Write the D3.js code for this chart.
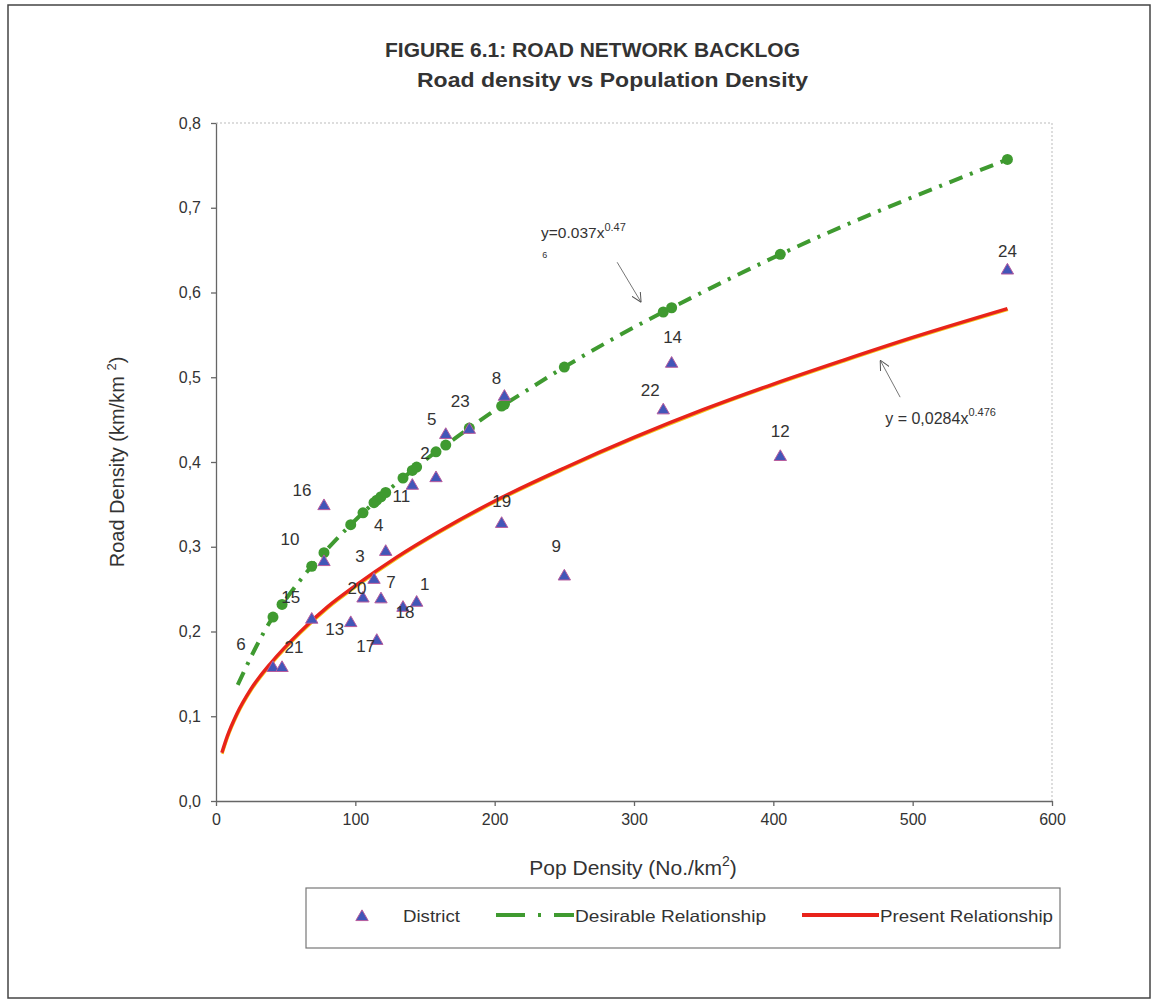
<!DOCTYPE html>
<html>
<head>
<meta charset="utf-8">
<script src="https://cdn.jsdelivr.net/npm/d3@7"></script>
<style>
body { margin: 0; background: #fff; }
text { font-family: "Liberation Sans", Arial, sans-serif; fill: #333; }
</style>
</head>
<body>
<svg id="chart" width="1156" height="1005"></svg>
<script>
// districts (triangles)
const districts = ["1","2","3","4","5","6","7","8","9","10","11","12","13","14","15","16","17","18","19","20","21","22","23","24"];
const popDensity = [144, 157.9, 113.4, 121.8, 164.9, 40.9, 118.4, 207, 250, 77.5, 140.9, 405, 96.7, 327, 68.7, 77.5, 115.4, 134.2, 205, 105.5, 47.4, 321, 181.8, 568];
const roadDensity = [0.234, 0.381, 0.261, 0.294, 0.432, 0.157, 0.238, 0.477, 0.265, 0.282, 0.372, 0.406, 0.210, 0.516, 0.214, 0.348, 0.189, 0.228, 0.327, 0.239, 0.157, 0.461, 0.438, 0.626];
// label nudges (px) as placed on the original chart
const labelDx = [8, -11, -14, -7, -14, -32, 10, -8, -8, -34, -11, 0, -16, 1, -21, -22, -11, 2, 0, -6, 12, -13, -9, 0];
const labelDy = [-18, -25, -23, -26, -15, -23, -17, -18, -30, -23, 11, -25, 6, -26, -22, -16, 6, 5, -22, -10, -20, -20, -28, -19];

// desirable relationship (green, markers at district densities)
const desirableX = [15.6, 40.9, 47.4, 68.7, 77.5, 96.7, 105.5, 113.4, 115.4, 118.4, 121.8, 134.2, 140.9, 144, 157.9, 164.9, 181.8, 205, 207, 250, 321, 327, 405, 568];
const desirableY = [0.137, 0.217, 0.232, 0.277, 0.293, 0.326, 0.340, 0.352, 0.355, 0.359, 0.364, 0.381, 0.390, 0.394, 0.412, 0.420, 0.440, 0.466, 0.468, 0.512, 0.577, 0.582, 0.645, 0.757];

// present relationship (red)
const presentX = [4.2, 8, 15, 25, 40, 60, 80, 100, 130, 160, 200, 250, 300, 350, 400, 450, 500, 568];
const presentY = [0.057, 0.076, 0.103, 0.132, 0.164, 0.199, 0.229, 0.254, 0.288, 0.318, 0.354, 0.393, 0.429, 0.462, 0.492, 0.520, 0.547, 0.581];

const xTicks = [0, 100, 200, 300, 400, 500, 600];
const yTicks = [0, 0.1, 0.2, 0.3, 0.4, 0.5, 0.6, 0.7, 0.8];

const svg = d3.select("#chart");
const plotLeft = 216, plotRight = 1052, plotTop = 123, plotBottom = 801;
const green = "#3f9a30", red = "#e8231a";

const x = d3.scaleLinear().domain([0, 600]).range([plotLeft, plotRight]);
const y = d3.scaleLinear().domain([0, 0.8]).range([plotBottom, plotTop]);

// outer frame
svg.append("rect")
    .attr("x", 8).attr("y", 5).attr("width", 1142).attr("height", 993)
    .attr("fill", "none").attr("stroke", "#444").attr("stroke-width", 1.5);

// titles
svg.append("text")
    .attr("x", 385).attr("y", 57)
    .attr("font-size", 20).attr("font-weight", "bold").attr("fill", "#222")
    .attr("textLength", 415).attr("lengthAdjust", "spacingAndGlyphs")
    .text("FIGURE 6.1: ROAD NETWORK BACKLOG");
svg.append("text")
    .attr("x", 417).attr("y", 87)
    .attr("font-size", 20).attr("font-weight", "bold").attr("fill", "#222")
    .attr("textLength", 391).attr("lengthAdjust", "spacingAndGlyphs")
    .text("Road density vs Population Density");

// plot area border (top and right, dotted)
svg.append("path")
    .attr("d", `M${plotLeft},${plotTop}H${plotRight}V${plotBottom}`)
    .attr("fill", "none").attr("stroke", "#bbb").attr("stroke-dasharray", "2,2");

// axes
const gx = svg.append("g")
    .attr("transform", `translate(0,${plotBottom})`)
    .call(d3.axisBottom(x).tickValues(xTicks).tickSize(5).tickPadding(8).tickSizeOuter(0));
const gy = svg.append("g")
    .attr("transform", `translate(${plotLeft},0)`)
    .call(d3.axisLeft(y).tickValues(yTicks).tickSize(5).tickPadding(10).tickSizeOuter(0)
        .tickFormat(d => d.toFixed(1).replace(".", ",")));
[gx, gy].forEach(g => {
    g.selectAll("path, line").attr("stroke", "#666").attr("stroke-width", 1.3);
    g.selectAll("text").attr("font-size", 16).attr("fill", "#333")
        .attr("font-family", "'Liberation Sans', Arial, sans-serif");
});

// axis titles
const yt = svg.append("text")
    .attr("transform", "translate(124,462) rotate(-90)")
    .attr("text-anchor", "middle").attr("font-size", 20);
yt.append("tspan").text("Road Density (km/km ");
yt.append("tspan").attr("font-size", 13).attr("dy", -8).text("2");
yt.append("tspan").attr("dy", 8).text(")");

const xt = svg.append("text")
    .attr("x", 633).attr("y", 875)
    .attr("text-anchor", "middle").attr("font-size", 21);
xt.append("tspan").text("Pop Density (No./km");
xt.append("tspan").attr("font-size", 14).attr("dy", -9).text("2");
xt.append("tspan").attr("dy", 9).text(")");

// present relationship curve
const presentPts = presentX.map((v, i) => [v, presentY[i]]);
const line = d3.line().x(d => x(d[0])).y(d => y(d[1])).curve(d3.curveMonotoneX);
svg.append("path")
    .attr("d", line(presentPts))
    .attr("transform", "translate(0.6,1.3)")
    .attr("fill", "none").attr("stroke", "#f3c51c").attr("stroke-width", 2.4);
svg.append("path")
    .attr("d", line(presentPts))
    .attr("fill", "none").attr("stroke", red).attr("stroke-width", 3.4);

// desirable relationship curve
const desirablePts = desirableX.map((v, i) => [v, desirableY[i]]);
svg.append("path")
    .attr("d", line(desirablePts))
    .attr("fill", "none").attr("stroke", green).attr("stroke-width", 4)
    .attr("stroke-dasharray", "14,8,3,8");
svg.append("g").selectAll("circle")
    .data(desirablePts.slice(1))
    .join("circle")
    .attr("cx", d => x(d[0])).attr("cy", d => y(d[1]))
    .attr("r", 5.5).attr("fill", green);

// districts
const tri = d3.symbol(d3.symbolTriangle, 66);
const pts = svg.append("g").selectAll("g")
    .data(districts.map((name, i) => ({name, x: popDensity[i], y: roadDensity[i], dx: labelDx[i], dy: labelDy[i]})))
    .join("g")
    .attr("transform", d => `translate(${x(d.x)},${y(d.y)})`);
pts.append("path")
    .attr("d", tri)
    .attr("fill", "#4256b8").attr("stroke", "#b85c9e").attr("stroke-width", 1);
pts.append("text")
    .attr("x", d => d.dx).attr("y", d => d.dy)
    .attr("text-anchor", "middle").attr("dominant-baseline", "central")
    .attr("font-size", 17).attr("fill", "#333")
    .text(d => d.name);

// trendline annotations
svg.append("defs").append("marker")
    .attr("id", "arrow").attr("viewBox", "0 0 10 10")
    .attr("refX", 10).attr("refY", 5)
    .attr("markerWidth", 10).attr("markerHeight", 10)
    .attr("markerUnits", "userSpaceOnUse")
    .attr("orient", "auto")
    .append("path").attr("d", "M0,0L10,5L0,10")
    .attr("fill", "none").attr("stroke", "#555").attr("stroke-width", 1);

const gTxt = svg.append("text")
    .attr("x", x(233.3)).attr("y", y(0.664)).attr("font-size", 15.5);
gTxt.append("tspan").text("y=0.037x");
gTxt.append("tspan").attr("font-size", 11).attr("dy", -7).text("0.47");
svg.append("text")
    .attr("x", x(234.2)).attr("y", y(0.6405)).attr("font-size", 9).text("6");
svg.append("line")
    .attr("x1", x(287.9)).attr("y1", y(0.6357)).attr("x2", x(305.1)).attr("y2", y(0.5885))
    .attr("stroke", "#666").attr("stroke-width", 0.9).attr("marker-end", "url(#arrow)");

const rTxt = svg.append("text")
    .attr("x", x(480.3)).attr("y", y(0.4446)).attr("font-size", 16);
rTxt.append("tspan").text("y = 0,0284x");
rTxt.append("tspan").attr("font-size", 11).attr("dy", -8).text("0.476");
svg.append("line")
    .attr("x1", x(491.0)).attr("y1", y(0.4765)).attr("x2", x(476.7)).attr("y2", y(0.5201))
    .attr("stroke", "#666").attr("stroke-width", 0.9).attr("marker-end", "url(#arrow)");

// legend
const lg = svg.append("g");
lg.append("rect")
    .attr("x", 306).attr("y", 888).attr("width", 754).attr("height", 60)
    .attr("fill", "none").attr("stroke", "#777").attr("stroke-width", 1.2);
lg.append("path")
    .attr("d", tri).attr("transform", "translate(362,917)")
    .attr("fill", "#4256b8").attr("stroke", "#b85c9e").attr("stroke-width", 1);
lg.append("text").attr("x", 403).attr("y", 922).attr("font-size", 16.5)
    .attr("textLength", 57).attr("lengthAdjust", "spacingAndGlyphs").text("District");
lg.append("line")
    .attr("x1", 496).attr("x2", 574).attr("y1", 915).attr("y2", 915)
    .attr("stroke", green).attr("stroke-width", 4).attr("stroke-dasharray", "29,13,3,13,30");
lg.append("text").attr("x", 575).attr("y", 922).attr("font-size", 16.5)
    .attr("textLength", 191).attr("lengthAdjust", "spacingAndGlyphs").text("Desirable Relationship");
lg.append("line")
    .attr("x1", 802).attr("x2", 879).attr("y1", 915).attr("y2", 915)
    .attr("stroke", red).attr("stroke-width", 4);
lg.append("text").attr("x", 880).attr("y", 922).attr("font-size", 16.5)
    .attr("textLength", 173).attr("lengthAdjust", "spacingAndGlyphs").text("Present Relationship");
</script>
</body>
</html>
